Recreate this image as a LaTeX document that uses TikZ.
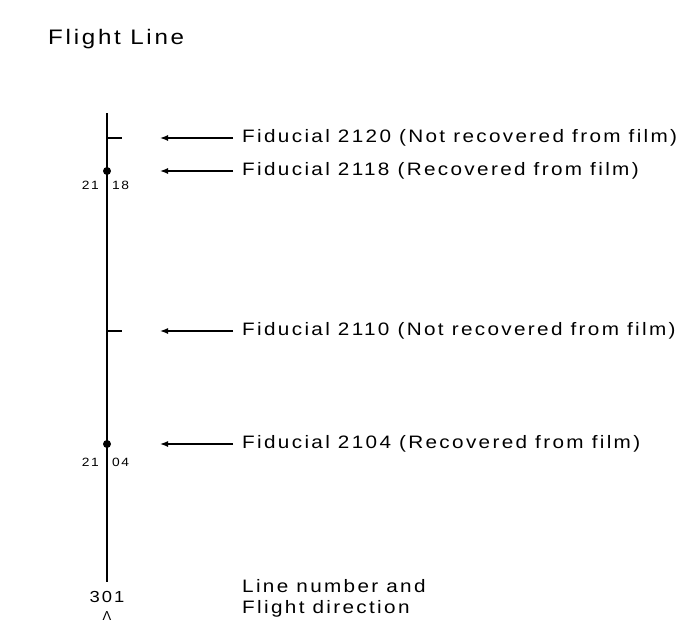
\documentclass[tikz,border=0pt]{standalone}
\usepackage{fontspec}
\setmainfont{Liberation Sans}
\newfontfamily\widefont[FakeStretch=1.15,LetterSpace=13]{Liberation Sans}
\usetikzlibrary{arrows.meta}
\begin{document}
\begin{tikzpicture}[x=1pt,y=-1pt,
  lbl/.style={anchor=west,inner sep=0pt,font=\widefont\fontsize{18}{21}\selectfont},
  num/.style={inner sep=0pt,font=\widefont\fontsize{12}{14}\selectfont},
  arr/.style={line width=1.4pt,-{Latex[length=8pt,width=6pt]}},
  tick/.style={line width=1.4pt},
  dotc/.style={circle,fill=black,inner sep=0pt,minimum size=8pt}]
\useasboundingbox (0,0) rectangle (694,624);
\node[lbl,font=\widefont\fontsize{21}{25}\selectfont] (title) at (48,39) {Flight Line};
\coordinate (top) at (107,113);
\coordinate (bot) at (107,582);
\draw[line width=1.5pt] (top) -- (bot);
% ticks and dots
\coordinate (t1) at (107,138);
\coordinate (t1e) at (122,138);
\draw[tick] (t1) -- (t1e);
\node[dotc] (d1) at (107,171) {};
\coordinate (t2) at (107,331);
\coordinate (t2e) at (122,331);
\draw[tick] (t2) -- (t2e);
\node[dotc] (d2) at (107,444) {};
% labels on line
\node[num,anchor=east] (n1a) at (99,185) {21};
\node[num,anchor=west] (n1b) at (112,185) {18};
\node[num,anchor=east] (n2a) at (99,462) {21};
\node[num,anchor=west] (n2b) at (112,462) {04};
% fiducial labels
\node[lbl] (f1) at (242,138) {Fiducial 2120 (Not recovered from film)};
\node[lbl] (f2) at (242,171) {Fiducial 2118 (Recovered from film)};
\node[lbl] (f3) at (242,331) {Fiducial 2110 (Not recovered from film)};
\node[lbl] (f4) at (242,444) {Fiducial 2104 (Recovered from film)};
\coordinate (a1) at (160,138);
\coordinate (a2) at (160,171);
\coordinate (a3) at (160,331);
\coordinate (a4) at (160,444);
\draw[arr] ([xshift=-9pt]f1.west) -- (a1);
\draw[arr] ([xshift=-9pt]f2.west) -- (a2);
\draw[arr] ([xshift=-9pt]f3.west) -- (a3);
\draw[arr] ([xshift=-9pt]f4.west) -- (a4);
% bottom
\node[num,font=\widefont\fontsize{16}{18}\selectfont] (ln) at (107,597) {301};
\node[num,font=\fontsize{13}{15}\selectfont] (dir) at (107,616) {Λ};
\node[lbl,align=left,anchor=base west,font=\widefont\fontsize{18}{21}\selectfont] (desc) at (242,613) {Line number and\\Flight direction};
\end{tikzpicture}
\end{document}
